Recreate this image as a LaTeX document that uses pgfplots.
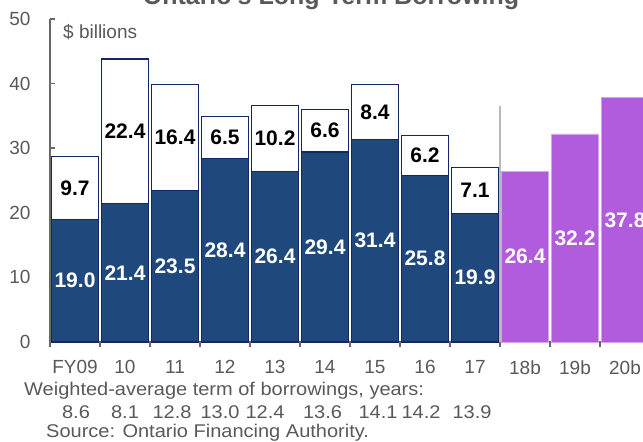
\documentclass[border=0pt]{standalone}
\usepackage{pgfplots}
\pgfplotsset{compat=1.18}
\usepackage{pgfplotstable}
\usepackage{fontspec}
\setmainfont{Liberation Sans}
\usepackage{graphicx}
\definecolor{navyfill}{RGB}{31,73,125}
\definecolor{navyedge}{RGB}{18,38,105}
\definecolor{purp}{RGB}{176,92,220}
\definecolor{txtgray}{RGB}{89,89,89}
\definecolor{axgray}{RGB}{105,105,105}
\definecolor{sepgray}{RGB}{185,185,185}

\pgfplotstableread{
x lower upper
0 19.0 9.7
1 21.4 22.4
2 23.5 16.4
3 28.4 6.5
4 26.4 10.2
5 29.4 6.6
6 31.4 8.4
7 25.8 6.2
8 19.9 7.1
}\hist
\pgfplotstableread{
x val
9 26.4
10 32.2
11 37.8
}\plan

\newcommand{\lab}{\bfseries\fontsize{21bp}{24bp}\selectfont}
\newcommand{\txtfont}{\fontsize{19bp}{22bp}\selectfont}
\newcommand{\botfont}{\fontsize{20bp}{23bp}\selectfont}

\begin{document}
\begin{tikzpicture}
\useasboundingbox (0,0) rectangle (643bp,442bp);
\clip (0,0) rectangle (643bp,442bp);
\begin{axis}[
  at={(50bp,100bp)}, anchor=south west,
  scale only axis, width=600bp, height=323bp,
  xmin=-0.5, xmax=11.5, ymin=0, ymax=50,
  axis lines*=left,
  axis line style={axgray, line width=1.5bp},
  xtick={0,...,11},
  xticklabels={FY09,10,11,12,13,14,15,16,17,18b,19b,20b},
  minor xtick={-0.5,0.5,...,11.5},
  ytick={0,10,...,50},
  xtick align=outside,
  ytick align=inside,
  major tick length=5bp,
  minor tick length=5bp,
  tick style={axgray, line width=1.5bp},
  every major x tick/.append style={draw=none},
  /pgf/number format/assume math mode=true,
  ticklabel style={font=\txtfont, text=txtgray},
  yticklabel style={xshift=-16bp},
  xticklabel style={yshift=-10bp},
  clip=false,
]
\addplot[ybar, bar width=0.93, bar shift=0pt, fill=white, draw=navyedge, line width=1.2bp]
  table[x=x, y expr=\thisrow{lower}+\thisrow{upper}] {\hist};
\addplot[ybar, bar width=0.93, bar shift=0pt, fill=navyfill, draw=navyedge, line width=1.2bp]
  table[x=x, y=lower] {\hist};
\addplot[ybar, bar width=0.93, bar shift=0pt, fill=purp, draw=purp!55!white, line width=0.8bp]
  table[x=x, y=val] {\plan};
\addplot[sepgray, line width=1.5bp] coordinates {(8.5,0) (8.5,36.5)};

% lower segment labels (segment midpoints)
\node[font=\lab, text=white] at (axis cs:0,9.5) {19.0};
\node[font=\lab, text=white] at (axis cs:1,10.7) {21.4};
\node[font=\lab, text=white] at (axis cs:2,11.75) {23.5};
\node[font=\lab, text=white] at (axis cs:3,14.2) {28.4};
\node[font=\lab, text=white] at (axis cs:4,13.2) {26.4};
\node[font=\lab, text=white] at (axis cs:5,14.7) {29.4};
\node[font=\lab, text=white] at (axis cs:6,15.7) {31.4};
\node[font=\lab, text=white] at (axis cs:7,12.9) {25.8};
\node[font=\lab, text=white] at (axis cs:8,9.95) {19.9};
\node[font=\lab, text=white] at (axis cs:9,13.2) {26.4};
\node[font=\lab, text=white] at (axis cs:10,16.1) {32.2};
\node[font=\lab, text=white] at (axis cs:11,18.9) {37.8};
% upper segment labels
\node[font=\lab, text=black] at (axis cs:0,23.85) {9.7};
\node[font=\lab, text=black] at (axis cs:1,32.6) {22.4};
\node[font=\lab, text=black] at (axis cs:2,31.7) {16.4};
\node[font=\lab, text=black] at (axis cs:3,31.65) {6.5};
\node[font=\lab, text=black] at (axis cs:4,31.5) {10.2};
\node[font=\lab, text=black] at (axis cs:5,32.7) {6.6};
\node[font=\lab, text=black] at (axis cs:6,35.6) {8.4};
\node[font=\lab, text=black] at (axis cs:7,28.9) {6.2};
\node[font=\lab, text=black] at (axis cs:8,23.45) {7.1};
\end{axis}

\node[anchor=base, font=\bfseries\fontsize{25bp}{28bp}\selectfont, text=txtgray] at (331bp,437.5bp) {Ontario's Long-Term Borrowing};
\node[anchor=west, inner sep=0pt, font=\txtfont, text=txtgray] at (63bp,410bp) {\$ billions};

\node[anchor=west, inner sep=0pt, font=\botfont, text=txtgray] at (24bp,51bp) {\scalebox{1}[0.92]{Weighted-average term of borrowings, years:}};
\foreach \px/\t in {76/8.6, 125/8.1, 172/12.8, 220/13.0, 265/12.4, 322.5/13.6, 378/14.1, 421/14.2, 472/13.9}
  \node[inner sep=0pt, font=\botfont, text=txtgray] at (\px bp,30bp) {\scalebox{1}[0.92]{\t}};
\node[anchor=west, inner sep=0pt, font=\botfont, text=txtgray] at (46bp,9bp) {\scalebox{1}[0.92]{Source: Ontario Financing Authority.}};
\end{tikzpicture}
\end{document}
